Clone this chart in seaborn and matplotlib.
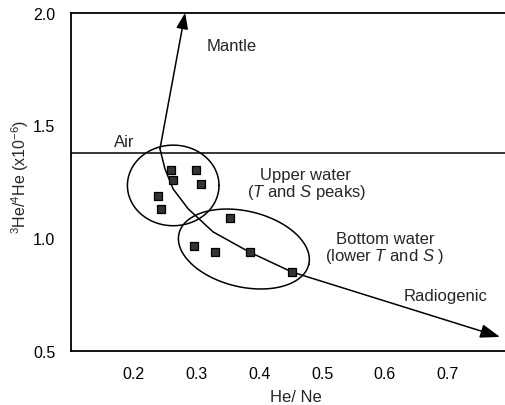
import numpy as np
import pandas as pd
import matplotlib
matplotlib.use('Agg')
import matplotlib.pyplot as plt
import seaborn as sns

# He/Ne and 3He/4He (x10^-6)
he_ne = [0.260, 0.262, 0.300, 0.307, 0.239, 0.243, 0.353, 0.296, 0.330, 0.385, 0.452]
he_ratio = [1.303, 1.259, 1.303, 1.239, 1.187, 1.129, 1.088, 0.964, 0.939, 0.939, 0.848]

air_ratio = 1.376

# mixing curve from the air/mantle point towards the radiogenic end
curve_x = [0.242, 0.250, 0.263, 0.287, 0.3265, 0.384, 0.452]
curve_y = [1.395, 1.306, 1.217, 1.129, 1.027, 0.938, 0.849]
radiogenic_end = (0.783, 0.561)
mantle_end = (0.282, 1.998)

x_ticks = [0.2, 0.3, 0.4, 0.5, 0.6, 0.7]
y_ticks = [0.5, 1.0, 1.5, 2.0]

sns.set_theme(style='white')
plt.rcParams['font.family'] = ['Liberation Sans', 'DejaVu Sans']
plt.rcParams['mathtext.fontset'] = 'custom'
plt.rcParams['mathtext.rm'] = 'Liberation Sans'
plt.rcParams['mathtext.it'] = 'Liberation Sans:italic'

W, H = 505, 406
fig = plt.figure(figsize=(W / 100, H / 100), dpi=100)
ax_box = [70.7 / W, (H - 351.7) / H, 440 / W, 338.2 / H]
ax = fig.add_axes(ax_box)

df = pd.DataFrame({'he_ne': he_ne, 'ratio': he_ratio})
sns.scatterplot(data=df, x='he_ne', y='ratio', marker='s', s=40,
                color='#333333', edgecolor='black', linewidth=0.9, ax=ax, zorder=5)

ax.set_xlim(0.1, 0.8)
ax.set_ylim(0.5, 2.0)

# pixels per data unit, used to draw the ellipses in screen shape
sx = ax_box[2] * W / 0.7
sy = ax_box[3] * H / 1.5

def ellipse(cx, cy, a_px, b_px, ang_deg):
    t = np.linspace(0, 2 * np.pi, 200)
    phi = np.deg2rad(ang_deg)
    u, v = a_px * np.cos(t), b_px * np.sin(t)
    X = u * np.cos(phi) - v * np.sin(phi)
    Y = u * np.sin(phi) + v * np.cos(phi)
    ax.plot(cx + X / sx, cy + Y / sy, color='black', lw=1.1)

ellipse(0.2631, 1.233, 45.8, 40.3, 0)
ellipse(0.3755, 0.951, 66.7, 37.9, -13.4)

ax.axhline(air_ratio, color='black', lw=1.1)

ax.plot(curve_x, curve_y, color='black', lw=1.1)
ax.annotate('', xy=radiogenic_end, xytext=(curve_x[-1], curve_y[-1]),
            arrowprops=dict(arrowstyle='-|>,head_length=1.0,head_width=0.35', color='black',
                            lw=1.1, shrinkA=0, shrinkB=0))
ax.annotate('', xy=mantle_end, xytext=(curve_x[0], curve_y[0]),
            arrowprops=dict(arrowstyle='-|>,head_length=0.8,head_width=0.3', color='black',
                            lw=1.1, shrinkA=0, shrinkB=0))

fs = 12
ax.text(0.3555, 1.853, 'Mantle', ha='center', va='center', fontsize=fs)
ax.text(0.185, 1.428, 'Air', ha='center', va='center', fontsize=fs)
ax.text(0.474, 1.282, 'Upper water', ha='center', va='center', fontsize=fs)
ax.text(0.476, 1.206, '($\\it{T}$ and $\\it{S}$ peaks)', ha='center', va='center', fontsize=fs)
ax.text(0.6005, 0.998, 'Bottom water', ha='center', va='center', fontsize=fs)
ax.text(0.600, 0.924, '(lower $\\it{T}$ and $\\it{S}$ )', ha='center', va='center', fontsize=fs)
ax.text(0.697, 0.747, 'Radiogenic', ha='center', va='center', fontsize=fs)

ax.set_xticks(x_ticks)
ax.set_xticklabels([f'{v:.1f}' for v in x_ticks])
ax.set_yticks(y_ticks)
ax.set_yticklabels([f'{v:.1f}' for v in y_ticks])
ax.tick_params(axis='x', direction='in', length=9, width=1.1, pad=11, labelsize=11.5, colors='black')
ax.tick_params(axis='y', direction='in', length=10, width=1.1, pad=11, labelsize=11.5, colors='black')

ax.set_xlabel('He/ Ne', fontsize=fs)
ax.set_ylabel('$^{3}$He/$^{4}$He (x10$^{-6}$)', fontsize=11.5)
ax.xaxis.set_label_coords(0.512, -0.113)
ax.yaxis.set_label_coords(-0.09, 0.517)

for side in ['left', 'bottom', 'top']:
    ax.spines[side].set_color('black')
    ax.spines[side].set_linewidth(1.3)
ax.spines['right'].set_visible(False)

fig.savefig('out.png', dpi=100)
